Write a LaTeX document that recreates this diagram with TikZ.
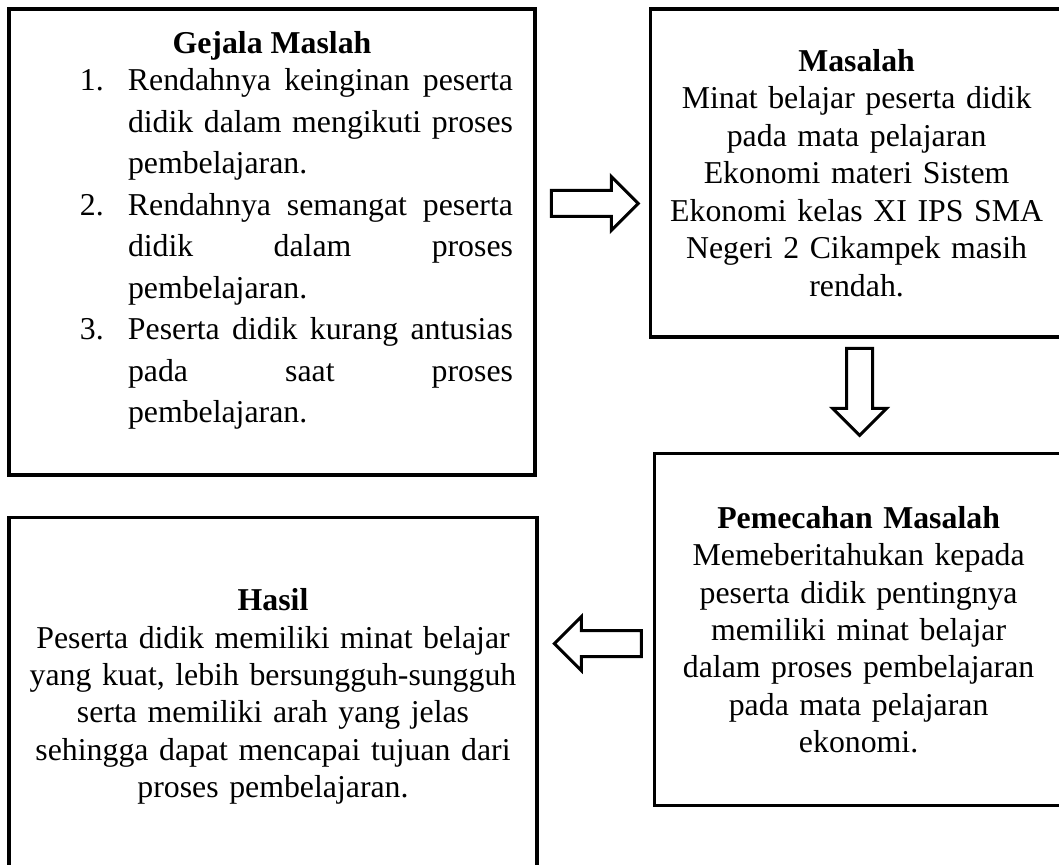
\documentclass[tikz,border=0pt]{standalone}
\usepackage{fontspec}
\setmainfont{Liberation Serif}
\usetikzlibrary{shapes.arrows,positioning,calc}

\begin{document}
\begin{tikzpicture}[
    x=0.5pt, y=-0.5pt,
    kotak/.style={rectangle, draw, line width=1.8pt, align=center, font=\fontsize{15.9pt}{18.7pt}\selectfont},
    panah/.style={single arrow, draw, line width=1.5pt, inner sep=5.75pt, minimum height=43.5pt, single arrow head extend=7pt, single arrow tip angle=90, anchor=tail}
]
\useasboundingbox (0,0) rectangle (1059,865);

\node[kotak, minimum width=263pt, minimum height=233pt, text width=241pt, align=justify, font=\fontsize{15.9pt}{20.75pt}\selectfont] (gejala) at (272,242) {%
  {\centering\noindent\textbf{Gejala Maslah}\par}
  \vspace{-2pt}
  \leftskip=48.5pt
  \noindent\llap{\makebox[24pt][l]{1.}}Rendahnya keinginan peserta\linebreak didik dalam mengikuti proses\linebreak pembelajaran.\par
  \noindent\llap{\makebox[24pt][l]{2.}}Rendahnya semangat peserta\linebreak didik dalam proses\linebreak pembelajaran.\par
  \noindent\llap{\makebox[24pt][l]{3.}}Peserta didik kurang antusias\linebreak pada saat proses\linebreak pembelajaran.\par
  \vspace{11.5pt}\hrule height 0pt};
% kotak kanan terpotong di tepi gambar
\node[kotak, minimum width=206pt, minimum height=164pt, text width=190pt, right=56pt of gejala.north east, anchor=north west] (masalah) {\textbf{Masalah}\\ Minat belajar peserta didik\\ pada mata pelajaran\\ Ekonomi materi Sistem\\ Ekonomi kelas XI IPS SMA\\ Negeri 2 Cikampek masih\\ rendah.};
\node[kotak, minimum width=204pt, minimum height=176pt, text width=190pt, below=56.5pt of masalah.south west, anchor=north west, xshift=2pt] (pemecahan) {\textbf{Pemecahan Masalah}\\ Memeberitahukan kepada\\ peserta didik pentingnya\\ memiliki minat belajar\\ dalam proses pembelajaran\\ pada mata pelajaran\\ ekonomi.};
\node[kotak, minimum width=264pt, minimum height=179pt, text width=250pt, below=19.5pt of gejala.south west, anchor=north west] (hasil) {\textbf{Hasil}\\ Peserta didik memiliki minat belajar\\ yang kuat, lebih bersungguh-sungguh\\ serta memiliki arah yang jelas\\ sehingga dapat mencapai tujuan dari\\ proses pembelajaran.};

\node[panah] (panah1) at ($(gejala.east)+(13,-38.5)$) {};
\node[panah, shape border rotate=270] (panah2) at ($(masalah.south)+(3,8)$) {};
\node[panah, shape border rotate=180] (panah3) at ($(pemecahan.west)+(-10,14)$) {};

\end{tikzpicture}
\end{document}
